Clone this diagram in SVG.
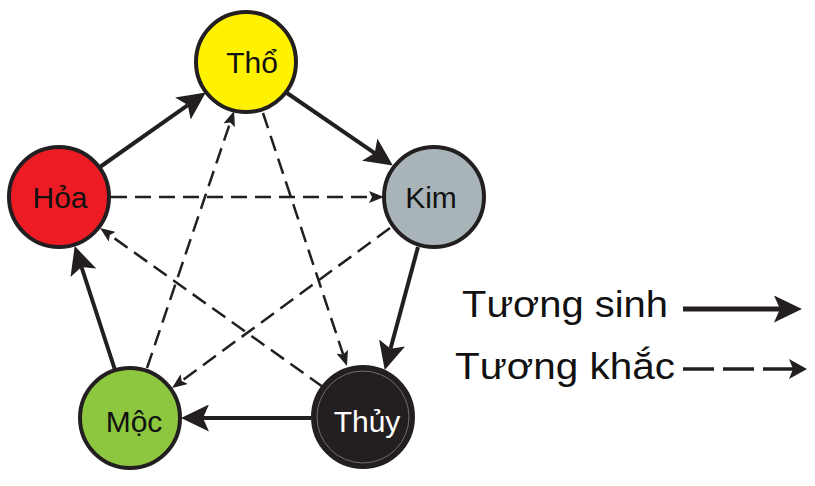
<svg xmlns="http://www.w3.org/2000/svg" width="815" height="486" viewBox="0 0 815 486">
<style>
.node{stroke:#231f20;stroke-width:4}
.lbl{font-family:"Liberation Sans",Arial,sans-serif;font-size:30px;text-anchor:middle;fill:#111}
.leg{font-family:"Liberation Sans",Arial,sans-serif;font-size:36px;fill:#111}
.sinh{stroke:#231f20;stroke-width:4;fill:none;marker-end:url(#ahS)}
.khac{stroke:#231f20;stroke-width:2.5;fill:none;stroke-dasharray:16 8;marker-end:url(#ahK)}
</style>
<defs>
<marker id="ahS" markerUnits="userSpaceOnUse" viewBox="0 0 28 27" markerWidth="28" markerHeight="27" refX="6" refY="13.5" orient="auto">
<path d="M0,0 L28,13.5 L0,27 L6,13.5 Z" fill="#231f20"/>
</marker>
<marker id="ahK" markerUnits="userSpaceOnUse" viewBox="0 0 15 12" markerWidth="15" markerHeight="12" refX="3" refY="6" orient="auto">
<path d="M0,0 L15,6 L0,12 L3,6 Z" fill="#231f20"/>
</marker>
<marker id="ahL" markerUnits="userSpaceOnUse" viewBox="0 0 18 20" markerWidth="18" markerHeight="20" refX="4" refY="10" orient="auto">
<path d="M0,0 L18,10 L0,20 L4,10 Z" fill="#231f20"/>
</marker>
</defs>
<rect width="815" height="486" fill="#fff"/>
<g id="connectors">
<line class="sinh" x1="100" y1="167" x2="187.8" y2="105.1"/>
<line class="sinh" x1="287" y1="93" x2="374.7" y2="153.1"/>
<line class="sinh" x1="418" y1="247" x2="390.5" y2="348.7"/>
<line class="sinh" x1="311" y1="418" x2="203" y2="418"/>
<line class="sinh" x1="115" y1="370" x2="81.5" y2="267"/>
<line class="khac" x1="111" y1="197" x2="372" y2="197"/>
<line class="khac" x1="390" y1="228" x2="181.7" y2="380.9"/>
<line class="khac" x1="147" y1="368" x2="230.2" y2="122.4"/>
<line class="khac" x1="263" y1="113" x2="343.2" y2="354.6"/>
<line class="khac" x1="323" y1="387" x2="109.8" y2="235"/>
</g>
<g id="node-tho">
<circle class="node" cx="246" cy="62" r="50" fill="#fff200"/>
<text class="lbl" x="252" y="73">Thổ</text>
</g>
<g id="node-hoa">
<circle class="node" cx="59" cy="197" r="50" fill="#ed1c24"/>
<text class="lbl" x="60" y="208">Hỏa</text>
</g>
<g id="node-kim">
<circle class="node" cx="434" cy="197" r="50" fill="#a8b4b8"/>
<text class="lbl" x="431" y="208">Kim</text>
</g>
<g id="node-thuy">
<circle class="node" cx="363" cy="417" r="50" fill="#231f20"/>
<circle cx="363" cy="417" r="46" fill="none" stroke="#6e6e6e" stroke-width="1"/>
<text class="lbl" x="367" y="432" style="fill:#fff">Thủy</text>
</g>
<g id="node-moc">
<circle class="node" cx="130" cy="418" r="50" fill="#8dc63f"/>
<text class="lbl" x="134" y="432">Mộc</text>
</g>
<g id="legend">
<text class="leg" x="462" y="317" textLength="206" lengthAdjust="spacingAndGlyphs">Tương sinh</text>
<line x1="683" y1="309" x2="780" y2="309" stroke="#231f20" stroke-width="5" marker-end="url(#ahS)"/>
<text class="leg" x="455" y="379" textLength="220" lengthAdjust="spacingAndGlyphs">Tương khắc</text>
<line x1="683" y1="369" x2="793" y2="369" stroke="#231f20" stroke-width="3.5" stroke-dasharray="31 9" marker-end="url(#ahL)"/>
</g>
</svg>
